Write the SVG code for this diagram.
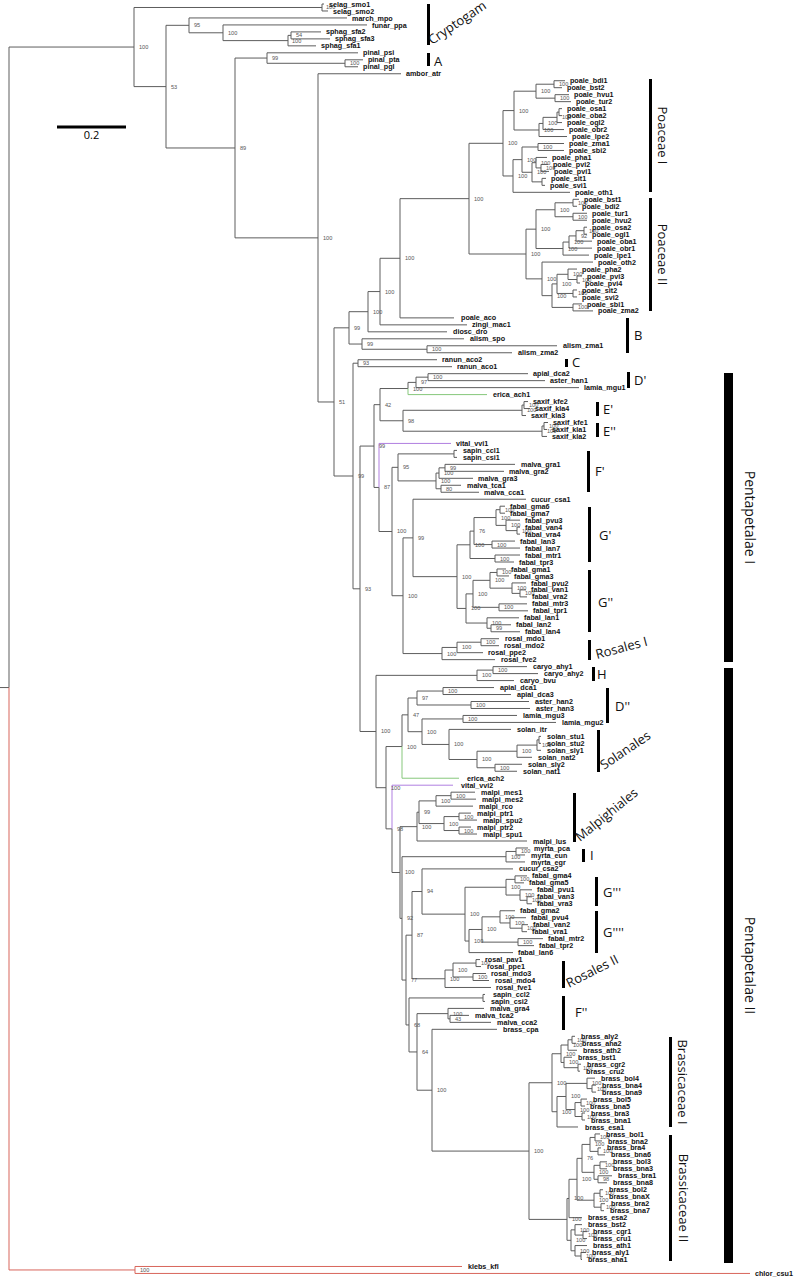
<svg xmlns="http://www.w3.org/2000/svg" width="796" height="1280" viewBox="0 0 796 1280">
<style>
.e path{fill:none;stroke:#5c5c5c;stroke-width:1}
.e path.g{stroke:#86c77a}
.e path.p{stroke:#b07ee0}
.e path.r{stroke:#d8645a}
.lv text{font-family:"Liberation Sans",Arial,sans-serif;font-weight:bold;font-size:7.2px;fill:#111}
.bs text{font-family:"Liberation Sans",Arial,sans-serif;font-size:5.6px;fill:#555}
.cl text{font-family:"Open Sans","DejaVu Sans",sans-serif;font-size:13px;fill:#111}
.cl rect{fill:#000}
</style>
<rect width="796" height="1280" fill="#fff"/>
<g id="scalebar"><rect x="57" y="125.5" width="69" height="3" fill="#000"/><text x="91.5" y="139" text-anchor="middle" style="font-family:'Open Sans','DejaVu Sans',sans-serif;font-size:11px">0.2</text></g>
<g transform="translate(0,4) scale(1,0.99643)">
<g id="connectors" class="e">
<path d="M134 43.2H9V686"/><path d="M0 686H9"/><path class="r" d="M9 686V1270.5H135"/>
<path class="r" d="M462 1267H135V1274H750"/>
<path d="M322 3.5H134V82.9H166"/>
<path d="M324 0H322V7H328"/>
<path d="M189 21.4H166V144.5H235"/>
<path d="M347 14H189V28.9H223"/>
<path d="M367 21H223V36.75H288"/>
<path d="M291 31.5H288V42H316"/>
<path d="M321 28H291V35H330"/>
<path d="M267 54.25H235V234.7H318"/>
<path d="M358 49H267V59.5H345"/>
<path d="M363 56H345V63H358"/>
<path d="M401 70H318V399.4H334"/>
<path d="M349 325H334V473.7H353"/>
<path d="M368 308.8H349V341.25H362"/>
<path d="M380 288.6H368V329H447"/>
<path d="M400 255.2H380V322H467"/>
<path d="M469 195.35H400V315H454"/>
<path d="M503 139.8H469V250.9H526"/>
<path d="M514 106.97H503V172.6H513"/>
<path d="M536 87.5H514V126.44H539"/>
<path d="M554 80.5H536V94.5H555"/>
<path d="M565 77H554V84H562"/>
<path d="M569 91H555V98H571"/>
<path d="M543 119.875H539V133H567"/>
<path d="M557 113.75H543V126H564"/>
<path d="M559 108.5H557V119H562"/>
<path d="M562 105H559V112H562"/>
<path d="M522 156.19H513V189H570"/>
<path d="M538 143.5H522V168.875H532"/>
<path d="M564 140H538V147H564"/>
<path d="M536 159.25H532V178.5H542"/>
<path d="M547 154H536V164.5H541"/>
<path d="M548 161H541V168H549"/>
<path d="M546 175H542V182H545"/>
<path d="M536 225.97H526V275.85H542"/>
<path d="M555 206.5H536V245.4H563"/>
<path d="M573 199.5H555V213.5H573"/>
<path d="M579 196H573V203H577"/>
<path d="M587 210H573V217H587"/>
<path d="M569 238.9H563V252H589"/>
<path d="M576 232.75H569V245H592"/>
<path d="M584 227.5H576V238H592"/>
<path d="M587 224H584V231H587"/>
<path d="M593 259H542V292.7H552"/>
<path d="M557 280.9H552V304.5H573"/>
<path d="M568 271.25H557V290.5H573"/>
<path d="M577 266H568V276.5H577"/>
<path d="M582 273H577V280H580"/>
<path d="M577 287H573V294H577"/>
<path d="M582 301H573V308H593"/>
<path d="M464 336H362V346.5H427"/>
<path d="M557 343H427V350H512"/>
<path d="M358 360.5H353V586.9H360"/>
<path d="M437 357H358V364H452"/>
<path d="M374 443.65H360V730.1H376"/>
<path d="M380 402.1H374V485.2H379"/>
<path d="M408 385.9H380V418.25H403"/>
<path d="M416 379.75H408V385.9"/><path class="g" d="M408 385.9V392H487"/>
<path d="M428 374.5H416V385H579"/>
<path d="M528 371H428V378H545"/>
<path d="M522 407.75H403V428.75H542"/>
<path d="M524 402.5H522V413H526"/>
<path d="M528 399H524V406H530"/>
<path d="M544 423.5H542V434H547"/>
<path d="M548 420H544V427H547"/>
<path class="p" d="M451 441H379V485.2"/><path d="M379 485.2V529.4H392"/>
<path d="M398 465H392V593.85H403"/>
<path d="M454 451.5H398V478.6H436"/>
<path d="M457 448H454V455H457"/>
<path d="M439 470.75H436V486.5H441"/>
<path d="M445 465.5H439V476H473"/>
<path d="M515 462H445V469H504"/>
<path d="M461 483H441V490H479"/>
<path d="M413 535.8H403V651.9H442"/>
<path d="M526 497H413V574.7H457"/>
<path d="M470 542.75H457V606.6H466"/>
<path d="M474 529H470V556.5H495"/>
<path d="M496 515.4H474V542.5H492"/>
<path d="M500 507.5H496V523.25H506"/>
<path d="M505 504H500V511H505"/>
<path d="M520 518H506V528.5H517"/>
<path d="M520 525H517V532H520"/>
<path d="M515 539H492V546H520"/>
<path d="M520 553H495V560H514"/>
<path d="M473 592H466V621.25H487"/>
<path d="M490 578.4H473V605.5H499"/>
<path d="M497 570.5H490V586.25H512"/>
<path d="M506 567H497V574H509"/>
<path d="M526 581H512V591.5H520"/>
<path d="M526 588H520V595H527"/>
<path d="M527 602H499V609H528"/>
<path d="M519 616H487V626.5H491"/>
<path d="M511 623H491V630H520"/>
<path d="M457 645.75H442V658H495"/>
<path d="M481 640.5H457V651H483"/>
<path d="M499 637H481V644H499"/>
<path d="M477 673.75H376V786.5H386"/>
<path d="M493 668.5H477V679H514"/>
<path d="M527 665H493V672H538"/>
<path d="M402 745.2H386V827.8H392"/>
<path d="M408 713.4H402V745.2"/><path class="g" d="M402 745.2V777H459"/>
<path d="M417 696.5H408V730.3H422"/>
<path d="M443 689.5H417V703.5H471"/>
<path d="M494 686H443V693H511"/>
<path d="M529 700H471V707H530"/>
<path d="M463 717.5H422V743.1H449"/>
<path d="M517 714H463V721H556"/>
<path d="M511 728H449V758.2H477"/>
<path d="M517 749.9H477V766.5H495"/>
<path d="M537 743.75H517V756H532"/>
<path d="M539 738.5H537V749H541"/>
<path d="M541 735H539V742H541"/>
<path d="M522 763H495V770H517"/>
<path class="p" d="M453 784H392V827.8"/><path d="M392 827.8V871.6H400"/>
<path d="M417 825.6H400V917.65H402"/>
<path d="M419 811.1H417V840H527"/>
<path d="M436 799.75H419V822.5H444"/>
<path d="M451 794.5H436V805H473"/>
<path d="M475 791H451V798H476"/>
<path d="M459 815.5H444V829.5H459"/>
<path d="M471 812H459V819H477"/>
<path d="M471 826H459V833H477"/>
<path d="M506 855.75H402V979.55H406"/>
<path d="M516 850.5H506V861H525"/>
<path d="M528 847H516V854H525"/>
<path d="M412 934.5H406V1024.6H409"/>
<path d="M422 890.7H412V978.25H445"/>
<path d="M513 868H422V913.4H465"/>
<path d="M506 886.4H465V940.4H469"/>
<path d="M515 878.5H506V894.25H520"/>
<path d="M527 875H515V882H524"/>
<path d="M532 889H520V899.5H527"/>
<path d="M532 896H527V903H532"/>
<path d="M482 928.8H469V952H513"/>
<path d="M500 916.1H482V941.5H518"/>
<path d="M515 910H500V922.25H510"/>
<path d="M526 917H510V927.5H522"/>
<path d="M528 924H522V931H527"/>
<path d="M543 938H518V945H534"/>
<path d="M453 969.5H445V987H491"/>
<path d="M476 962.5H453V976.5H473"/>
<path d="M480 959H476V966H481"/>
<path d="M486 973H473V980H489"/>
<path d="M483 997.5H409V1051.7H417"/>
<path d="M485 994H483V1001H485"/>
<path d="M448 1013.25H417V1090.1H432"/>
<path d="M484 1008H448V1018.5H450"/>
<path d="M469 1015H450V1022H491"/>
<path d="M497 1029H432V1151.2H529"/>
<path d="M552 1082.6H529V1219.75H567"/>
<path d="M561 1053.5H552V1111.7H557"/>
<path d="M568 1044.75H561V1062.25H564"/>
<path d="M572 1039.5H568V1050H577"/>
<path d="M575 1036H572V1043H576"/>
<path d="M572 1057H564V1067.5H578"/>
<path d="M581 1064H578V1071H580"/>
<path d="M566 1096.4H557V1127H578"/>
<path d="M587 1083.25H566V1109.5H575"/>
<path d="M595 1078H587V1088.5H592"/>
<path d="M596 1085H592V1092H596"/>
<path d="M581 1102.5H575V1116.5H582"/>
<path d="M587 1099H581V1106H585"/>
<path d="M585 1113H582V1120H585"/>
<path d="M569 1198.75H567V1240.75H571"/>
<path d="M577 1179.5H569V1218H582"/>
<path d="M582 1158.5H577V1200.5H594"/>
<path d="M590 1144.5H582V1172.5H594"/>
<path d="M595 1137.5H590V1151.5H598"/>
<path d="M600 1134H595V1141H602"/>
<path d="M601 1148H598V1155H605"/>
<path d="M600 1165.5H594V1179.5H598"/>
<path d="M607 1162H600V1169H607"/>
<path d="M612 1176H598V1183H607"/>
<path d="M600 1193.5H594V1207.5H601"/>
<path d="M603 1190H600V1197H603"/>
<path d="M605 1204H601V1211H604"/>
<path d="M575 1230.25H571V1251.25H575"/>
<path d="M582 1225H575V1235.5H583"/>
<path d="M587 1232H583V1239H587"/>
<path d="M587 1246H575V1256.5H581"/>
<path d="M586 1253H581V1260H582"/>
</g>
<g id="support" class="bs">
<text x="139" y="45.2">100</text><text x="326" y="5.5">100</text><text x="171" y="84.9">53</text><text x="194" y="23.4">95</text><text x="228" y="30.9">100</text><text x="292" y="39">100</text><text x="296" y="33">54</text><text x="240" y="146.5">89</text><text x="272" y="56.25">99</text><text x="350" y="61.5">100</text><text x="323" y="236.7">100</text><text x="339" y="401.4">51</text><text x="354" y="327">99</text><text x="373" y="310.8">100</text><text x="385" y="290.6">100</text><text x="405" y="257.2">100</text><text x="474" y="197.35">100</text><text x="508" y="141.8">100</text><text x="519" y="109">100</text><text x="541" y="89.5">100</text><text x="559" y="82.5">100</text><text x="560" y="96.5">100</text><text x="544" y="128.4">100</text><text x="548" y="121.9">100</text><text x="562" y="115.7">100</text><text x="518" y="174.6">100</text><text x="527" y="158.2">100</text><text x="543" y="145.5">100</text><text x="537" y="170.9">100</text><text x="541" y="161.2">100</text><text x="546" y="166.5">100</text>
<text x="531" y="252.9">100</text><text x="541" y="228">100</text><text x="560" y="208.5">100</text><text x="578" y="201.5">100</text><text x="578" y="215.5">100</text><text x="568" y="247.4">100</text><text x="574" y="240.9">100</text><text x="581" y="234.7">92</text><text x="589" y="229.5">100</text><text x="547" y="277.8">100</text><text x="557" y="294.7">100</text><text x="562" y="282.9">100</text><text x="573" y="273.2">100</text><text x="582" y="278.5">100</text><text x="578" y="292.5">100</text><text x="578" y="306.5">100</text>
<text x="367" y="343.2">99</text><text x="432" y="348.5">100</text><text x="358" y="475.7">99</text><text x="363" y="362.5">93</text><text x="365" y="588.9">93</text><text x="379" y="445.6">99</text><text x="385" y="404.1">42</text><text x="413" y="387.9">100</text><text x="421" y="381.7">97</text><text x="433" y="376.5">100</text><text x="408" y="420.2">98</text><text x="527" y="409.7">100</text><text x="529" y="404.5">100</text><text x="547" y="430.7">100</text><text x="549" y="425.5">100</text>
<text x="384" y="487.2">87</text><text x="397" y="531.4">100</text><text x="403" y="467">95</text><text x="441" y="480.6">100</text><text x="444" y="472.7">100</text><text x="450" y="467.5">99</text><text x="446" y="488.5">80</text><text x="408" y="595.8">100</text><text x="418" y="537.8">99</text><text x="462" y="576.7">100</text><text x="475" y="544.7">100</text><text x="479" y="531">76</text><text x="501" y="517.4">100</text><text x="505" y="509.5">100</text><text x="511" y="525.2">100</text><text x="522" y="530.5">100</text><text x="497" y="544.5">100</text><text x="500" y="558.5">100</text><text x="471" y="608.6">100</text><text x="478" y="594">100</text><text x="495" y="580.4">100</text><text x="502" y="572.5">100</text><text x="517" y="588.2">100</text><text x="525" y="593.5">100</text><text x="504" y="607.5">100</text><text x="492" y="623.2">100</text><text x="496" y="628.5">99</text><text x="447" y="653.9">100</text><text x="462" y="647.7">100</text><text x="486" y="642.5">100</text>
<text x="381" y="732.1">100</text><text x="482" y="675.7">100</text><text x="498" y="670.5">100</text><text x="391" y="788.5">100</text><text x="407" y="747.2">100</text><text x="413" y="715.4">47</text><text x="422" y="698.5">97</text><text x="448" y="691.5">100</text><text x="476" y="705.5">100</text><text x="427" y="732.3">100</text><text x="468" y="719.5">100</text><text x="454" y="745.1">100</text><text x="482" y="760.2">100</text><text x="522" y="751.9">100</text><text x="542" y="745.7">100</text><text x="500" y="768.5">100</text>
<text x="397" y="829.8">98</text><text x="405" y="873.6">100</text><text x="422" y="827.6">100</text><text x="424" y="813.1">99</text><text x="441" y="801.7">100</text><text x="456" y="796.5">100</text><text x="449" y="824.5">100</text><text x="464" y="817.5">100</text><text x="464" y="831.5">100</text><text x="407" y="919.6">92</text><text x="511" y="857.7">100</text><text x="521" y="852.5">100</text><text x="411" y="981.5">77</text><text x="417" y="936.5">87</text><text x="427" y="892.7">94</text><text x="470" y="915.4">100</text><text x="511" y="888.4">100</text><text x="520" y="880.5">100</text><text x="525" y="896.2">100</text><text x="532" y="901.5">100</text><text x="474" y="942.4">100</text><text x="487" y="930.8">100</text><text x="505" y="918.1">100</text><text x="515" y="924.2">100</text><text x="527" y="929.5">100</text><text x="523" y="943.5">100</text><text x="450" y="980.2">100</text><text x="458" y="971.5">100</text><text x="481" y="964.5">100</text><text x="478" y="978.5">100</text>
<text x="414" y="1026.6">68</text><text x="422" y="1053.7">64</text><text x="453" y="1015.2">100</text><text x="455" y="1020.5">43</text><text x="437" y="1092.1">100</text><text x="534" y="1153.2">100</text><text x="557" y="1084.6">100</text><text x="566" y="1055.5">100</text><text x="573" y="1046.7">100</text><text x="577" y="1041.5">100</text><text x="569" y="1064.2">100</text><text x="583" y="1069.5">100</text><text x="562" y="1113.7">100</text><text x="571" y="1098.4">100</text><text x="592" y="1085.2">100</text><text x="597" y="1090.5">100</text><text x="580" y="1111.5">100</text><text x="586" y="1104.5">100</text><text x="587" y="1118.5">100</text>
<text x="572" y="1221.7">100</text><text x="574" y="1200.7">100</text><text x="582" y="1181.5">100</text><text x="587" y="1160.5">76</text><text x="595" y="1146.5">100</text><text x="600" y="1139.5">100</text><text x="603" y="1153.5">100</text><text x="599" y="1174.5">100</text><text x="605" y="1167.5">100</text><text x="603" y="1181.5">98</text><text x="599" y="1202.5">100</text><text x="605" y="1195.5">100</text><text x="606" y="1209.5">100</text><text x="576" y="1242.7">100</text><text x="580" y="1232.2">100</text><text x="588" y="1237.5">100</text><text x="580" y="1253.2">100</text><text x="586" y="1258.5">100</text><text x="140" y="1272.5">100</text>
</g>
<g id="leaves" class="lv">
<g id="selag_smo1"><text x="329" y="2.6">selag_smo1</text></g>
<g id="selag_smo2"><text x="333" y="9.6">selag_smo2</text></g>
<g id="march_mpo"><text x="352" y="16.6">march_mpo</text></g>
<g id="funar_ppa"><text x="372" y="23.6">funar_ppa</text></g>
<g id="sphag_sfa2"><text x="326" y="30.6">sphag_sfa2</text></g>
<g id="sphag_sfa3"><text x="335" y="37.6">sphag_sfa3</text></g>
<g id="sphag_sfa1"><text x="321" y="44.6">sphag_sfa1</text></g>
<g id="pinal_psi"><text x="363" y="51.6">pinal_psi</text></g>
<g id="pinal_pta"><text x="368" y="58.6">pinal_pta</text></g>
<g id="pinal_pgl"><text x="363" y="65.6">pinal_pgl</text></g>
<g id="ambor_atr"><text x="406" y="72.6">ambor_atr</text></g>
<g id="poale_bdi1"><text x="570" y="79.6">poale_bdi1</text></g>
<g id="poale_bst2"><text x="567" y="86.6">poale_bst2</text></g>
<g id="poale_hvu1"><text x="574" y="93.6">poale_hvu1</text></g>
<g id="poale_tur2"><text x="576" y="100.6">poale_tur2</text></g>
<g id="poale_osa1"><text x="567" y="107.6">poale_osa1</text></g>
<g id="poale_oba2"><text x="567" y="114.6">poale_oba2</text></g>
<g id="poale_ogl2"><text x="567" y="121.6">poale_ogl2</text></g>
<g id="poale_obr2"><text x="569" y="128.6">poale_obr2</text></g>
<g id="poale_lpe2"><text x="572" y="135.6">poale_lpe2</text></g>
<g id="poale_zma1"><text x="569" y="142.6">poale_zma1</text></g>
<g id="poale_sbi2"><text x="569" y="149.6">poale_sbi2</text></g>
<g id="poale_pha1"><text x="552" y="156.6">poale_pha1</text></g>
<g id="poale_pvi2"><text x="553" y="163.6">poale_pvi2</text></g>
<g id="poale_pvi1"><text x="554" y="170.6">poale_pvi1</text></g>
<g id="poale_sit1"><text x="551" y="177.6">poale_sit1</text></g>
<g id="poale_svi1"><text x="550" y="184.6">poale_svi1</text></g>
<g id="poale_oth1"><text x="575" y="191.6">poale_oth1</text></g>
<g id="poale_bst1"><text x="584" y="198.6">poale_bst1</text></g>
<g id="poale_bdi2"><text x="582" y="205.6">poale_bdi2</text></g>
<g id="poale_tur1"><text x="592" y="212.6">poale_tur1</text></g>
<g id="poale_hvu2"><text x="592" y="219.6">poale_hvu2</text></g>
<g id="poale_osa2"><text x="592" y="226.6">poale_osa2</text></g>
<g id="poale_ogl1"><text x="592" y="233.6">poale_ogl1</text></g>
<g id="poale_oba1"><text x="597" y="240.6">poale_oba1</text></g>
<g id="poale_obr1"><text x="597" y="247.6">poale_obr1</text></g>
<g id="poale_lpe1"><text x="594" y="254.6">poale_lpe1</text></g>
<g id="poale_oth2"><text x="598" y="261.6">poale_oth2</text></g>
<g id="poale_pha2"><text x="582" y="268.6">poale_pha2</text></g>
<g id="poale_pvi3"><text x="587" y="275.6">poale_pvi3</text></g>
<g id="poale_pvi4"><text x="585" y="282.6">poale_pvi4</text></g>
<g id="poale_sit2"><text x="582" y="289.6">poale_sit2</text></g>
<g id="poale_svi2"><text x="582" y="296.6">poale_svi2</text></g>
<g id="poale_sbi1"><text x="587" y="303.6">poale_sbi1</text></g>
<g id="poale_zma2"><text x="598" y="310.6">poale_zma2</text></g>
<g id="poale_aco"><text x="461" y="317.6">poale_aco</text></g>
<g id="zingi_mac1"><text x="472" y="324.6">zingi_mac1</text></g>
<g id="diosc_dro"><text x="453" y="331.6">diosc_dro</text></g>
<g id="alism_spo"><text x="470" y="338.6">alism_spo</text></g>
<g id="alism_zma1"><text x="563" y="345.6">alism_zma1</text></g>
<g id="alism_zma2"><text x="518" y="352.6">alism_zma2</text></g>
<g id="ranun_aco2"><text x="442" y="359.6">ranun_aco2</text></g>
<g id="ranun_aco1"><text x="457" y="366.6">ranun_aco1</text></g>
<g id="apial_dca2"><text x="533" y="373.6">apial_dca2</text></g>
<g id="aster_han1"><text x="550" y="380.6">aster_han1</text></g>
<g id="lamia_mgu1"><text x="584" y="387.6">lamia_mgu1</text></g>
<g id="erica_ach1"><text x="493" y="394.6">erica_ach1</text></g>
<g id="saxif_kfe2"><text x="533" y="401.6">saxif_kfe2</text></g>
<g id="saxif_kla4"><text x="535" y="408.6">saxif_kla4</text></g>
<g id="saxif_kla3"><text x="531" y="415.6">saxif_kla3</text></g>
<g id="saxif_kfe1"><text x="553" y="422.6">saxif_kfe1</text></g>
<g id="saxif_kla1"><text x="552" y="429.6">saxif_kla1</text></g>
<g id="saxif_kla2"><text x="552" y="436.6">saxif_kla2</text></g>
<g id="vital_vvi1"><text x="456" y="443.6">vital_vvi1</text></g>
<g id="sapin_ccl1"><text x="463" y="450.6">sapin_ccl1</text></g>
<g id="sapin_csi1"><text x="463" y="457.6">sapin_csi1</text></g>
<g id="malva_gra1"><text x="521" y="464.6">malva_gra1</text></g>
<g id="malva_gra2"><text x="509" y="471.6">malva_gra2</text></g>
<g id="malva_gra3"><text x="478" y="478.6">malva_gra3</text></g>
<g id="malva_tca1"><text x="467" y="485.6">malva_tca1</text></g>
<g id="malva_cca1"><text x="484" y="492.6">malva_cca1</text></g>
<g id="cucur_csa1"><text x="531" y="499.6">cucur_csa1</text></g>
<g id="fabal_gma6"><text x="510" y="506.6">fabal_gma6</text></g>
<g id="fabal_gma7"><text x="510" y="513.6">fabal_gma7</text></g>
<g id="fabal_pvu3"><text x="525" y="520.6">fabal_pvu3</text></g>
<g id="fabal_van4"><text x="525" y="527.6">fabal_van4</text></g>
<g id="fabal_vra4"><text x="525" y="534.6">fabal_vra4</text></g>
<g id="fabal_lan3"><text x="520" y="541.6">fabal_lan3</text></g>
<g id="fabal_lan7"><text x="525" y="548.6">fabal_lan7</text></g>
<g id="fabal_mtr1"><text x="525" y="555.6">fabal_mtr1</text></g>
<g id="fabal_tpr3"><text x="519" y="562.6">fabal_tpr3</text></g>
<g id="fabal_gma1"><text x="511" y="569.6">fabal_gma1</text></g>
<g id="fabal_gma3"><text x="514" y="576.6">fabal_gma3</text></g>
<g id="fabal_pvu2"><text x="531" y="583.6">fabal_pvu2</text></g>
<g id="fabal_van1"><text x="531" y="590.6">fabal_van1</text></g>
<g id="fabal_vra2"><text x="532" y="597.6">fabal_vra2</text></g>
<g id="fabal_mtr3"><text x="532" y="604.6">fabal_mtr3</text></g>
<g id="fabal_tpr1"><text x="533" y="611.6">fabal_tpr1</text></g>
<g id="fabal_lan1"><text x="524" y="618.6">fabal_lan1</text></g>
<g id="fabal_lan2"><text x="516" y="625.6">fabal_lan2</text></g>
<g id="fabal_lan4"><text x="525" y="632.6">fabal_lan4</text></g>
<g id="rosal_mdo1"><text x="505" y="639.6">rosal_mdo1</text></g>
<g id="rosal_mdo2"><text x="504" y="646.6">rosal_mdo2</text></g>
<g id="rosal_ppe2"><text x="488" y="653.6">rosal_ppe2</text></g>
<g id="rosal_fve2"><text x="501" y="660.6">rosal_fve2</text></g>
<g id="caryo_ahy1"><text x="533" y="667.6">caryo_ahy1</text></g>
<g id="caryo_ahy2"><text x="544" y="674.6">caryo_ahy2</text></g>
<g id="caryo_bvu"><text x="520" y="681.6">caryo_bvu</text></g>
<g id="apial_dca1"><text x="500" y="688.6">apial_dca1</text></g>
<g id="apial_dca3"><text x="517" y="695.6">apial_dca3</text></g>
<g id="aster_han2"><text x="535" y="702.6">aster_han2</text></g>
<g id="aster_han3"><text x="536" y="709.6">aster_han3</text></g>
<g id="lamia_mgu3"><text x="523" y="716.6">lamia_mgu3</text></g>
<g id="lamia_mgu2"><text x="562" y="723.6">lamia_mgu2</text></g>
<g id="solan_itr"><text x="517" y="730.6">solan_itr</text></g>
<g id="solan_stu1"><text x="547" y="737.6">solan_stu1</text></g>
<g id="solan_stu2"><text x="547" y="744.6">solan_stu2</text></g>
<g id="solan_sly1"><text x="547" y="751.6">solan_sly1</text></g>
<g id="solan_nat2"><text x="538" y="758.6">solan_nat2</text></g>
<g id="solan_sly2"><text x="528" y="765.6">solan_sly2</text></g>
<g id="solan_nat1"><text x="523" y="772.6">solan_nat1</text></g>
<g id="erica_ach2"><text x="467" y="779.6">erica_ach2</text></g>
<g id="vital_vvi2"><text x="461" y="786.6">vital_vvi2</text></g>
<g id="malpi_mes1"><text x="481" y="793.6">malpi_mes1</text></g>
<g id="malpi_mes2"><text x="482" y="800.6">malpi_mes2</text></g>
<g id="malpi_rco"><text x="479" y="807.6">malpi_rco</text></g>
<g id="malpi_ptr1"><text x="477" y="814.6">malpi_ptr1</text></g>
<g id="malpi_spu2"><text x="483" y="821.6">malpi_spu2</text></g>
<g id="malpi_ptr2"><text x="477" y="828.6">malpi_ptr2</text></g>
<g id="malpi_spu1"><text x="483" y="835.6">malpi_spu1</text></g>
<g id="malpi_lus"><text x="533" y="842.6">malpi_lus</text></g>
<g id="myrta_pca"><text x="534" y="849.6">myrta_pca</text></g>
<g id="myrta_eun"><text x="531" y="856.6">myrta_eun</text></g>
<g id="myrta_egr"><text x="531" y="863.6">myrta_egr</text></g>
<g id="cucur_csa2"><text x="519" y="870.6">cucur_csa2</text></g>
<g id="fabal_gma4"><text x="532" y="877.6">fabal_gma4</text></g>
<g id="fabal_gma5"><text x="529" y="884.6">fabal_gma5</text></g>
<g id="fabal_pvu1"><text x="537" y="891.6">fabal_pvu1</text></g>
<g id="fabal_van3"><text x="537" y="898.6">fabal_van3</text></g>
<g id="fabal_vra3"><text x="537" y="905.6">fabal_vra3</text></g>
<g id="fabal_gma2"><text x="520" y="912.6">fabal_gma2</text></g>
<g id="fabal_pvu4"><text x="531" y="919.6">fabal_pvu4</text></g>
<g id="fabal_van2"><text x="533" y="926.6">fabal_van2</text></g>
<g id="fabal_vra1"><text x="532" y="933.6">fabal_vra1</text></g>
<g id="fabal_mtr2"><text x="548" y="940.6">fabal_mtr2</text></g>
<g id="fabal_tpr2"><text x="539" y="947.6">fabal_tpr2</text></g>
<g id="fabal_lan6"><text x="518" y="954.6">fabal_lan6</text></g>
<g id="rosal_pav1"><text x="485" y="961.6">rosal_pav1</text></g>
<g id="rosal_ppe1"><text x="487" y="968.6">rosal_ppe1</text></g>
<g id="rosal_mdo3"><text x="491" y="975.6">rosal_mdo3</text></g>
<g id="rosal_mdo4"><text x="495" y="982.6">rosal_mdo4</text></g>
<g id="rosal_fve1"><text x="496" y="989.6">rosal_fve1</text></g>
<g id="sapin_ccl2"><text x="493" y="996.6">sapin_ccl2</text></g>
<g id="sapin_csi2"><text x="491" y="1003.6">sapin_csi2</text></g>
<g id="malva_gra4"><text x="490" y="1010.6">malva_gra4</text></g>
<g id="malva_tca2"><text x="475" y="1017.6">malva_tca2</text></g>
<g id="malva_cca2"><text x="497" y="1024.6">malva_cca2</text></g>
<g id="brass_cpa"><text x="503" y="1031.6">brass_cpa</text></g>
<g id="brass_aly2"><text x="581" y="1038.6">brass_aly2</text></g>
<g id="brass_aha2"><text x="582" y="1045.6">brass_aha2</text></g>
<g id="brass_ath2"><text x="583" y="1052.6">brass_ath2</text></g>
<g id="brass_bst1"><text x="578" y="1059.6">brass_bst1</text></g>
<g id="brass_cgr2"><text x="587" y="1066.6">brass_cgr2</text></g>
<g id="brass_cru2"><text x="586" y="1073.6">brass_cru2</text></g>
<g id="brass_bol4"><text x="601" y="1080.6">brass_bol4</text></g>
<g id="brass_bna4"><text x="602" y="1087.6">brass_bna4</text></g>
<g id="brass_bna9"><text x="602" y="1094.6">brass_bna9</text></g>
<g id="brass_bol5"><text x="593" y="1101.6">brass_bol5</text></g>
<g id="brass_bna5"><text x="590" y="1108.6">brass_bna5</text></g>
<g id="brass_bra3"><text x="591" y="1115.6">brass_bra3</text></g>
<g id="brass_bna1"><text x="591" y="1122.6">brass_bna1</text></g>
<g id="brass_esa1"><text x="585" y="1129.6">brass_esa1</text></g>
<g id="brass_bol1"><text x="606" y="1136.6">brass_bol1</text></g>
<g id="brass_bna2"><text x="608" y="1143.6">brass_bna2</text></g>
<g id="brass_bra4"><text x="607" y="1150.6">brass_bra4</text></g>
<g id="brass_bna6"><text x="611" y="1157.6">brass_bna6</text></g>
<g id="brass_bol3"><text x="613" y="1164.6">brass_bol3</text></g>
<g id="brass_bna3"><text x="613" y="1171.6">brass_bna3</text></g>
<g id="brass_bra1"><text x="618" y="1178.6">brass_bra1</text></g>
<g id="brass_bna8"><text x="613" y="1185.6">brass_bna8</text></g>
<g id="brass_bol2"><text x="609" y="1192.6">brass_bol2</text></g>
<g id="brass_bnaX"><text x="609" y="1199.6">brass_bnaX</text></g>
<g id="brass_bra2"><text x="611" y="1206.6">brass_bra2</text></g>
<g id="brass_bna7"><text x="610" y="1213.6">brass_bna7</text></g>
<g id="brass_esa2"><text x="588" y="1220.6">brass_esa2</text></g>
<g id="brass_bst2"><text x="588" y="1227.6">brass_bst2</text></g>
<g id="brass_cgr1"><text x="593" y="1234.6">brass_cgr1</text></g>
<g id="brass_cru1"><text x="593" y="1241.6">brass_cru1</text></g>
<g id="brass_ath1"><text x="593" y="1248.6">brass_ath1</text></g>
<g id="brass_aly1"><text x="592" y="1255.6">brass_aly1</text></g>
<g id="brass_aha1"><text x="588" y="1262.6">brass_aha1</text></g>
<g id="klebs_kfl"><text x="468" y="1269.6">klebs_kfl</text></g>
<g id="chlor_csu1"><text x="755" y="1276.6">chlor_csu1</text></g>
</g>
</g>
<g class="cl">
<g id="clade-cryptogam"><rect x="427" y="4" width="3" height="41"/><text transform="translate(432,45) rotate(-34)">Cryptogam</text></g>
<g id="clade-A"><rect x="427" y="53" width="3" height="13"/><text x="434" y="66">A</text></g>
<g id="clade-poaceae1"><rect x="649" y="79" width="3" height="113"/><text transform="translate(658,135.5) rotate(90)" text-anchor="middle">Poaceae I</text></g>
<g id="clade-poaceae2"><rect x="649" y="198" width="3" height="113"/><text transform="translate(658,254.5) rotate(90)" text-anchor="middle">Poaceae II</text></g>
<g id="clade-B"><rect x="626" y="318" width="3" height="35"/><text x="634" y="340">B</text></g>
<g id="clade-C"><rect x="565" y="359" width="3" height="8"/><text x="572" y="367">C</text></g>
<g id="clade-D1"><rect x="627" y="372" width="3" height="16"/><text x="634" y="385">D'</text></g>
<g id="clade-E1"><rect x="596" y="402" width="3" height="14"/><text x="603" y="414">E'</text></g>
<g id="clade-E2"><rect x="596" y="423" width="3" height="14"/><text x="603" y="436">E''</text></g>
<g id="clade-F1"><rect x="587" y="451" width="3" height="41"/><text x="595" y="476">F'</text></g>
<g id="clade-G1"><rect x="588" y="507" width="3" height="55"/><text x="599" y="540">G'</text></g>
<g id="clade-G2"><rect x="588" y="570" width="3" height="62"/><text x="598" y="607">G''</text></g>
<g id="clade-rosales1"><rect x="588" y="640" width="3" height="20"/><text transform="translate(597,659) rotate(-15)">Rosales I</text></g>
<g id="clade-H"><rect x="592" y="667" width="3" height="14"/><text x="597" y="679">H</text></g>
<g id="clade-D2"><rect x="606" y="688" width="3" height="35"/><text x="615" y="711">D''</text></g>
<g id="clade-solanales"><rect x="597" y="730" width="3" height="42"/><text transform="translate(604,770) rotate(-34)">Solanales</text></g>
<g id="clade-malpighiales"><rect x="573" y="793" width="3" height="49"/><text transform="translate(580,842) rotate(-39)">Malpighiales</text></g>
<g id="clade-I"><rect x="582" y="849" width="3" height="13"/><text x="590" y="860">I</text></g>
<g id="clade-G3"><rect x="595" y="877" width="3" height="29"/><text x="603" y="897">G'''</text></g>
<g id="clade-G4"><rect x="595" y="911" width="3" height="42"/><text x="603" y="937">G''''</text></g>
<g id="clade-rosales2"><rect x="562" y="961" width="3" height="27"/><text transform="translate(569,988) rotate(-27)">Rosales II</text></g>
<g id="clade-F2"><rect x="562" y="996" width="3" height="34"/><text x="575" y="1017">F''</text></g>
<g id="clade-brass1"><rect x="669" y="1037" width="3" height="90"/><text transform="translate(678,1082) rotate(90)" text-anchor="middle">Brassicaceae I</text></g>
<g id="clade-brass2"><rect x="669" y="1135" width="3" height="126"/><text transform="translate(679,1198) rotate(90)" text-anchor="middle">Brassicaceae II</text></g>
<g id="clade-penta1"><rect x="724" y="373" width="9" height="289"/><text transform="translate(745,517.5) rotate(90)" text-anchor="middle" style="font-size:14px">Pentapetalae I</text></g>
<g id="clade-penta2"><rect x="724" y="668" width="9" height="595"/><text transform="translate(745,965.5) rotate(90)" text-anchor="middle" style="font-size:14px">Pentapetalae II</text></g>
</g>
</svg>
